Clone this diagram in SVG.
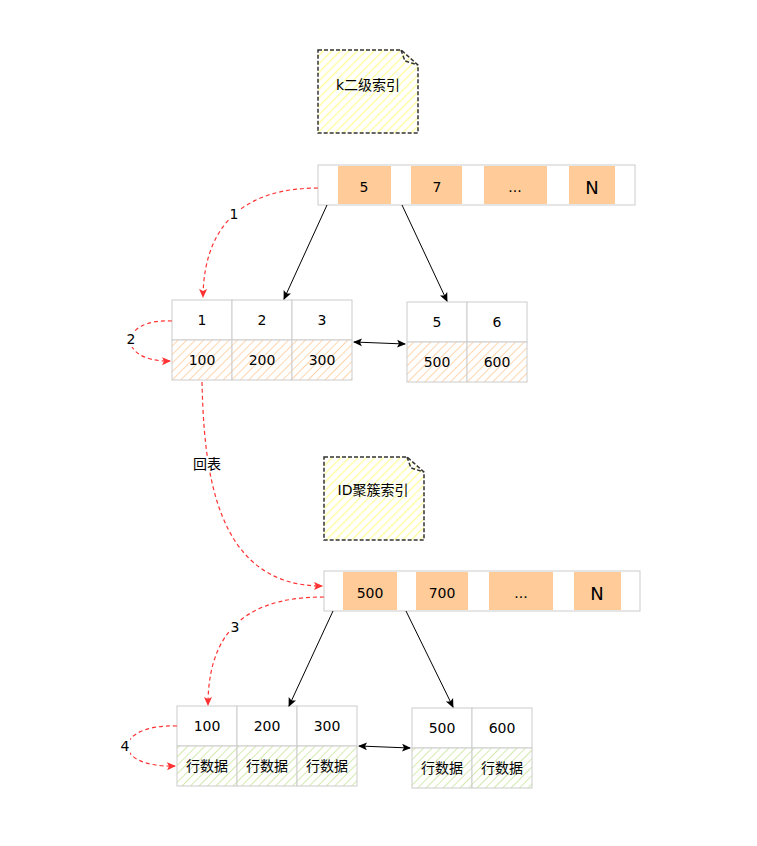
<svg xmlns="http://www.w3.org/2000/svg" width="757" height="846" viewBox="0 0 757 846">
<defs>
<style>
.cell{fill:#fff;stroke:#cccccc;stroke-width:1}
.oc{fill:#ffcc99;stroke:none}
.ho{fill:url(#hatchO);stroke:#cccccc;stroke-width:1}
.hg{fill:url(#hatchG);stroke:#cccccc;stroke-width:1}
.t{font-family:"DejaVu Sans","Noto Sans CJK SC",sans-serif;font-size:14px;fill:#000;text-anchor:middle;dominant-baseline:central}
.tn{font-family:"DejaVu Sans",sans-serif;font-size:18px;fill:#000;text-anchor:middle;dominant-baseline:central}
.note{fill:url(#hatchY);stroke:#333;stroke-width:1.5;stroke-dasharray:4 2}
.red{fill:none;stroke:#ff3333;stroke-width:1.2;stroke-dasharray:4 3;marker-end:url(#ar)}
.blk{fill:none;stroke:#000;stroke-width:1;marker-end:url(#ab)}
.blk2{fill:none;stroke:#000;stroke-width:1;marker-end:url(#ab);marker-start:url(#abs)}
.lb{fill:#fff}
</style>
<pattern id="hatchO" patternUnits="userSpaceOnUse" width="6" height="6" patternTransform="rotate(45)">
<rect width="6" height="6" fill="#fff"/><line x1="0" y1="0" x2="0" y2="6" stroke="#ffd5ad" stroke-width="2"/>
</pattern>
<pattern id="hatchG" patternUnits="userSpaceOnUse" width="6" height="6" patternTransform="rotate(45)">
<rect width="6" height="6" fill="#fff"/><line x1="0" y1="0" x2="0" y2="6" stroke="#d5eab0" stroke-width="2"/>
</pattern>
<pattern id="hatchY" patternUnits="userSpaceOnUse" width="6" height="6" patternTransform="rotate(45)">
<rect width="6" height="6" fill="#fff"/><line x1="0" y1="0" x2="0" y2="6" stroke="#ffff99" stroke-width="2.5"/>
</pattern>
<marker id="ar" markerWidth="10" markerHeight="10" refX="8" refY="5" orient="auto" markerUnits="userSpaceOnUse">
<path d="M0,1 L9,5 L0,9 L2,5 Z" fill="#ff3333"/>
</marker>
<marker id="ab" markerWidth="10" markerHeight="10" refX="8" refY="5" orient="auto" markerUnits="userSpaceOnUse">
<path d="M0,1 L9,5 L0,9 L2,5 Z" fill="#000"/>
</marker>
<marker id="abs" markerWidth="10" markerHeight="10" refX="2" refY="5" orient="auto" markerUnits="userSpaceOnUse">
<path d="M10,1 L1,5 L10,9 L8,5 Z" fill="#000"/>
</marker>
</defs>

<g id="note1">
<path class="note" d="M318,50 L401,50 L418,65 L418,133 L318,133 Z"/>
<path d="M401,50 L405,61 L418,65" fill="none" stroke="#333" stroke-width="1.5" stroke-dasharray="4 2"/>
<text class="t" x="368" y="85">k二级索引</text>
</g>

<g id="bar1">
<rect class="cell" x="318" y="165" width="317" height="40"/>
<rect class="oc" x="338" y="166" width="53" height="38"/>
<rect class="oc" x="411" y="166" width="51" height="38"/>
<rect class="oc" x="484" y="166" width="63" height="38"/>
<rect class="oc" x="569" y="166" width="46" height="38"/>
<text class="t" x="364" y="187">5</text>
<text class="t" x="437" y="187">7</text>
<text class="t" x="515" y="187">...</text>
<text class="tn" x="592" y="187">N</text>
</g>

<g id="leaf1">
<rect class="cell" x="172" y="300" width="60" height="40"/>
<rect class="cell" x="232" y="300" width="60" height="40"/>
<rect class="cell" x="292" y="300" width="60" height="40"/>
<rect class="ho" x="172" y="340" width="60" height="40"/>
<rect class="ho" x="232" y="340" width="60" height="40"/>
<rect class="ho" x="292" y="340" width="60" height="40"/>
<text class="t" x="202" y="320">1</text>
<text class="t" x="262" y="320">2</text>
<text class="t" x="322" y="320">3</text>
<text class="t" x="202" y="360">100</text>
<text class="t" x="262" y="360">200</text>
<text class="t" x="322" y="360">300</text>
</g>

<g id="leaf2">
<rect class="cell" x="407" y="302" width="60" height="40"/>
<rect class="cell" x="467" y="302" width="60" height="40"/>
<rect class="ho" x="407" y="342" width="60" height="40"/>
<rect class="ho" x="467" y="342" width="60" height="40"/>
<text class="t" x="437" y="322">5</text>
<text class="t" x="497" y="322">6</text>
<text class="t" x="437" y="362">500</text>
<text class="t" x="497" y="362">600</text>
</g>

<g id="note2">
<path class="note" d="M324,457 L407,457 L424,472 L424,540 L324,540 Z"/>
<path d="M407,457 L411,468 L424,472" fill="none" stroke="#333" stroke-width="1.5" stroke-dasharray="4 2"/>
<text class="t" x="373" y="490">ID聚簇索引</text>
</g>

<g id="bar2">
<rect class="cell" x="324" y="571" width="316" height="40"/>
<rect class="oc" x="343" y="572" width="54" height="38"/>
<rect class="oc" x="416" y="572" width="52" height="38"/>
<rect class="oc" x="489" y="572" width="64" height="38"/>
<rect class="oc" x="574" y="572" width="47" height="38"/>
<text class="t" x="370" y="593">500</text>
<text class="t" x="442" y="593">700</text>
<text class="t" x="521" y="593">...</text>
<text class="tn" x="597" y="593">N</text>
</g>

<g id="leaf3">
<rect class="cell" x="177" y="706" width="60" height="40"/>
<rect class="cell" x="237" y="706" width="60" height="40"/>
<rect class="cell" x="297" y="706" width="60" height="40"/>
<rect class="hg" x="177" y="746" width="60" height="40"/>
<rect class="hg" x="237" y="746" width="60" height="40"/>
<rect class="hg" x="297" y="746" width="60" height="40"/>
<text class="t" x="207" y="726">100</text>
<text class="t" x="267" y="726">200</text>
<text class="t" x="327" y="726">300</text>
<text class="t" x="207" y="766">行数据</text>
<text class="t" x="267" y="766">行数据</text>
<text class="t" x="327" y="766">行数据</text>
</g>

<g id="leaf4">
<rect class="cell" x="412" y="708" width="60" height="40"/>
<rect class="cell" x="472" y="708" width="60" height="40"/>
<rect class="hg" x="412" y="748" width="60" height="40"/>
<rect class="hg" x="472" y="748" width="60" height="40"/>
<text class="t" x="442" y="728">500</text>
<text class="t" x="502" y="728">600</text>
<text class="t" x="442" y="768">行数据</text>
<text class="t" x="502" y="768">行数据</text>
</g>

<g id="connectors">
<line class="blk" x1="327" y1="205" x2="284" y2="299"/>
<line class="blk" x1="402" y1="205" x2="447" y2="301"/>
<line class="blk2" x1="354" y1="342" x2="405" y2="344"/>
<line class="blk" x1="333" y1="611" x2="289" y2="706"/>
<line class="blk" x1="406" y1="611" x2="453" y2="707"/>
<line class="blk2" x1="359" y1="746" x2="410" y2="748"/>
<path class="red" d="M318,188 C255,188 204,215 203,297"/>
<path class="red" d="M172,321 C118,318 116,362 170,361"/>
<path class="red" d="M202,382 C204,470 215,586 322,586"/>
<path class="red" d="M324,597 C262,597 208,618 208,705"/>
<path class="red" d="M177,726 C112,724 111,768 175,766"/>
<rect class="lb" x="229" y="206" width="10" height="16"/>
<text class="t" x="234" y="214">1</text>
<rect class="lb" x="126" y="331" width="10" height="16"/>
<text class="t" x="131" y="339">2</text>
<rect class="lb" x="193" y="456" width="28" height="16"/>
<text class="t" x="207" y="464">回表</text>
<rect class="lb" x="230" y="619" width="10" height="16"/>
<text class="t" x="235" y="627">3</text>
<rect class="lb" x="120" y="738" width="10" height="16"/>
<text class="t" x="125" y="746">4</text>
</g>
</svg>
